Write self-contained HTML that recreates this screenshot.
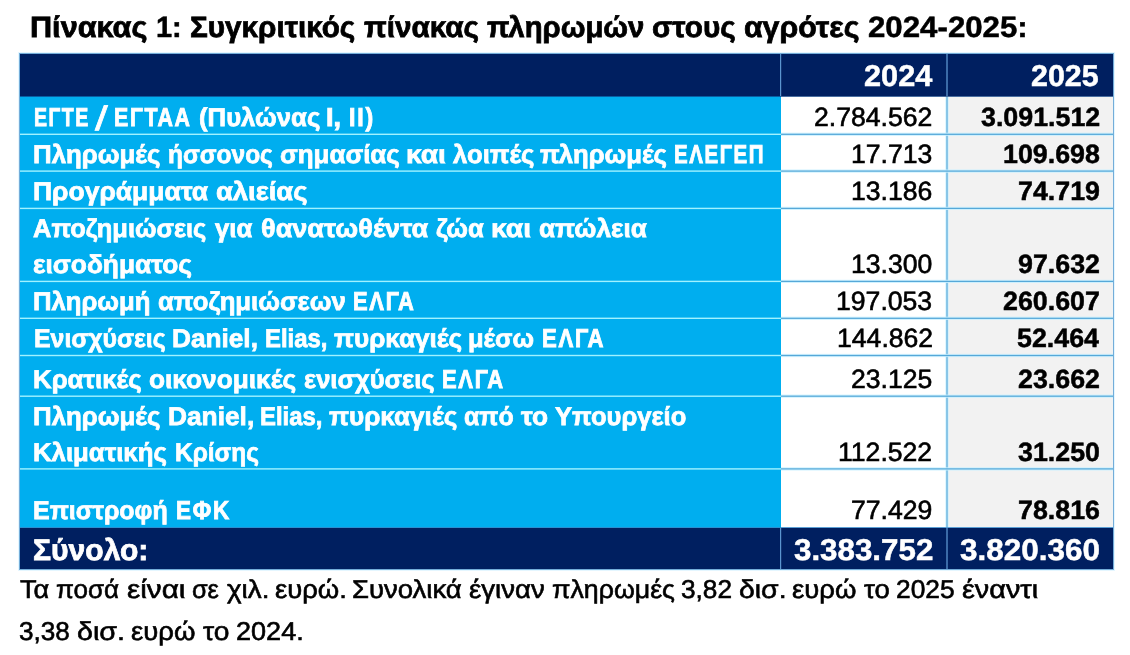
<!DOCTYPE html>
<html lang="el">
<head>
<meta charset="utf-8">
<title>Πίνακας 1: Συγκριτικός πίνακας πληρωμών στους αγρότες 2024-2025</title>
<style>
html,body{margin:0;padding:0;background:#fff;}
body{width:1130px;height:655px;position:relative;overflow:hidden;font-family:"Liberation Sans",sans-serif;text-rendering:geometricPrecision;color:#000;}
.b{position:absolute;z-index:0;}
.o{z-index:2;}
h1,p{margin:0;padding:0;font-weight:400;}
table{position:absolute;left:20px;top:54px;width:1093px;border-collapse:collapse;border-spacing:0;table-layout:fixed;z-index:1;}
th,td{position:relative;padding:0;margin:0;border:0;text-align:left;vertical-align:top;font-weight:400;overflow:visible;}
thead tr,tfoot tr{background:#001f60;}
tbody th{background:#00aeef;}
tbody td{background:#fff;}
tbody td.y25{background:#f2f2f2;}
.l{position:absolute;left:0;width:0;height:0;white-space:nowrap;line-height:1;margin:0;padding:0;}
.l span{position:absolute;top:0;white-space:nowrap;transform-origin:0 0;}
.bd{font-weight:700;-webkit-text-stroke:0.75px currentColor;}
.rg{-webkit-text-stroke:0.6px currentColor;}
.w{color:#fff;}
</style>
</head>
<body>
<div class="b" style="left:18px;top:52px;width:1097px;height:519px;background:#e4f6ff"></div>
<div class="b" style="left:19px;top:53px;width:1095px;height:517px;background:#74add9"></div>
<h1 class="l bd" style="top:13px;font-size:29.4px"><span style="left:29.94px;transform:scaleX(1.0422)">Πίνακας</span> <span style="-webkit-text-stroke-width:0.5px;left:156.42px;transform:scaleX(0.9864)">1:</span> <span style="left:189.99px;transform:scaleX(1.0093)">Συγκριτικός</span> <span style="left:364.15px;transform:scaleX(1.0093)">πίνακας</span> <span style="left:487.25px;transform:scaleX(0.9971)">πληρωμών</span> <span style="left:652.34px;transform:scaleX(1.0105)">στους</span> <span style="left:744.33px;transform:scaleX(1.0299)">αγρότες</span> <span style="-webkit-text-stroke-width:0.5px;left:868.40px;transform:scaleX(1.0626)">2024-2025:</span></h1>
<table>
<colgroup><col style="width:761px"><col style="width:166px"><col style="width:166px"></colgroup>
<thead>
<tr style="height:43px"><th></th><th><div class="l bd w" style="top:8px;font-size:30px"><span style="-webkit-text-stroke-width:0.5px;left:83.13px;transform:scaleX(1.0227)">2024</span></div></th><th><div class="l bd w" style="top:8px;font-size:30px"><span style="-webkit-text-stroke-width:0.5px;left:84.24px;transform:scaleX(1.0137)">2025</span></div></th></tr>
</thead>
<tbody>
<tr style="height:37px"><th><div class="l bd w" style="top:9px;font-size:25.8px"><span style="-webkit-text-stroke-width:0.9px;letter-spacing:2px;left:13.76px;transform:scaleX(0.7557)">ΕΓΤΕ</span> <span style="-webkit-text-stroke-width:0.6px;top:-4px;font-size:34px;font-weight:400;left:74.74px;transform:scaleX(1.3500)">/</span> <span style="-webkit-text-stroke-width:0.9px;letter-spacing:2px;left:94.47px;transform:scaleX(0.8276)">ΕΓΤΑΑ</span> <span style="left:178.90px;transform:scaleX(0.9967)">(Πυλώνας</span> <span style="-webkit-text-stroke-width:0.9px;left:306.49px;transform:scaleX(1.0468)">Ι,</span> <span style="-webkit-text-stroke-width:0.9px;letter-spacing:2px;left:328.98px;transform:scaleX(0.8970)">ΙΙ)</span></div></th><td><div class="l rg" style="top:7px;font-size:26.4px"><span style="left:33.29px;transform:scaleX(1.0078)">2.784.562</span></div></td><td class="y25"><div class="l bd" style="top:7px;font-size:26.4px"><span style="-webkit-text-stroke-width:0.5px;left:33.75px;transform:scaleX(1.0159)">3.091.512</span></div></td></tr>
<tr style="height:37px"><th><div class="l bd w" style="top:9px;font-size:25.8px"><span style="left:13.45px;transform:scaleX(1.0008)">Πληρωμές</span> <span style="left:148.19px;transform:scaleX(0.9505)">ήσσονος</span> <span style="left:259.65px;transform:scaleX(1.0055)">σημασίας</span> <span style="left:386.06px;transform:scaleX(1.0906)">και</span> <span style="left:433.25px;transform:scaleX(0.9951)">λοιπές</span> <span style="left:520.35px;transform:scaleX(0.9960)">πληρωμές</span> <span style="-webkit-text-stroke-width:0.9px;letter-spacing:2px;left:654.41px;transform:scaleX(0.7928)">ΕΛΕΓΕΠ</span></div></th><td><div class="l rg" style="top:7px;font-size:26.4px"><span style="left:70.33px;transform:scaleX(1.0078)">17.713</span></div></td><td class="y25"><div class="l bd" style="top:7px;font-size:26.4px"><span style="-webkit-text-stroke-width:0.5px;left:55.84px;transform:scaleX(1.0159)">109.698</span></div></td></tr>
<tr style="height:37px"><th><div class="l bd w" style="top:9px;font-size:25.8px"><span style="left:13.42px;transform:scaleX(1.0262)">Προγράμματα</span> <span style="left:195.90px;transform:scaleX(1.0631)">αλιείας</span></div></th><td><div class="l rg" style="top:7px;font-size:26.4px"><span style="left:70.33px;transform:scaleX(1.0078)">13.186</span></div></td><td class="y25"><div class="l bd" style="top:7px;font-size:26.4px"><span style="-webkit-text-stroke-width:0.5px;left:70.83px;transform:scaleX(1.0159)">74.719</span></div></td></tr>
<tr style="height:73px"><th><div class="l bd w" style="top:9px;font-size:25.8px"><span style="left:13.15px;transform:scaleX(0.9866)">Αποζημιώσεις</span> <span style="left:194.70px;transform:scaleX(0.9961)">για</span> <span style="left:241.01px;transform:scaleX(1.0501)">θανατωθέντα</span> <span style="left:416.30px;transform:scaleX(0.9937)">ζώα</span> <span style="left:471.26px;transform:scaleX(1.0964)">και</span> <span style="left:518.84px;transform:scaleX(1.0137)">απώλεια</span></div><div class="l bd w" style="top:45px;font-size:25.8px"><span style="left:13.19px;transform:scaleX(1.0204)">εισοδήματος</span></div></th><td><div class="l rg" style="top:43px;font-size:26.4px"><span style="left:70.08px;transform:scaleX(1.0078)">13.300</span></div></td><td class="y25"><div class="l bd" style="top:43px;font-size:26.4px"><span style="-webkit-text-stroke-width:0.5px;left:70.83px;transform:scaleX(1.0159)">97.632</span></div></td></tr>
<tr style="height:37px"><th><div class="l bd w" style="top:9px;font-size:25.8px"><span style="left:13.46px;transform:scaleX(0.9948)">Πληρωμή</span> <span style="left:137.75px;transform:scaleX(0.9960)">αποζημιώσεων</span> <span style="-webkit-text-stroke-width:0.9px;letter-spacing:2px;left:332.74px;transform:scaleX(0.8496)">ΕΛΓΑ</span></div></th><td><div class="l rg" style="top:7px;font-size:26.4px"><span style="left:55.46px;transform:scaleX(1.0078)">197.053</span></div></td><td class="y25"><div class="l bd" style="top:7px;font-size:26.4px"><span style="-webkit-text-stroke-width:0.5px;left:56.10px;transform:scaleX(1.0159)">260.607</span></div></td></tr>
<tr style="height:37px"><th><div class="l bd w" style="top:9px;font-size:25.8px"><span style="left:13.50px;transform:scaleX(0.9633)">Ενισχύσεις</span> <span style="left:152.23px;transform:scaleX(1.0159)">Daniel,</span> <span style="left:244.74px;transform:scaleX(0.9266)">Elias,</span> <span style="left:313.65px;transform:scaleX(1.0107)">πυρκαγιές</span> <span style="left:448.12px;transform:scaleX(0.9884)">μέσω</span> <span style="-webkit-text-stroke-width:0.9px;letter-spacing:2px;left:522.23px;transform:scaleX(0.8582)">ΕΛΓΑ</span></div></th><td><div class="l rg" style="top:7px;font-size:26.4px"><span style="left:55.72px;transform:scaleX(1.0078)">144.862</span></div></td><td class="y25"><div class="l bd" style="top:7px;font-size:26.4px"><span style="-webkit-text-stroke-width:0.5px;left:70.06px;transform:scaleX(1.0159)">52.464</span></div></td></tr>
<tr style="height:41px"><th><div class="l bd w" style="top:13px;font-size:25.8px"><span style="left:13.45px;transform:scaleX(1.0005)">Κρατικές</span> <span style="left:129.44px;transform:scaleX(1.0171)">οικονομικές</span> <span style="left:284.10px;transform:scaleX(0.9908)">ενισχύσεις</span> <span style="-webkit-text-stroke-width:0.9px;letter-spacing:2px;left:421.84px;transform:scaleX(0.8511)">ΕΛΓΑ</span></div></th><td><div class="l rg" style="top:11px;font-size:26.4px"><span style="left:70.08px;transform:scaleX(1.0078)">23.125</span></div></td><td class="y25"><div class="l bd" style="top:11px;font-size:26.4px"><span style="-webkit-text-stroke-width:0.5px;left:70.83px;transform:scaleX(1.0159)">23.662</span></div></td></tr>
<tr style="height:73px"><th><div class="l bd w" style="top:9px;font-size:25.8px"><span style="left:13.45px;transform:scaleX(1.0008)">Πληρωμές</span> <span style="left:147.53px;transform:scaleX(1.0195)">Daniel,</span> <span style="left:240.14px;transform:scaleX(0.9266)">Elias,</span> <span style="left:309.15px;transform:scaleX(1.0123)">πυρκαγιές</span> <span style="left:444.08px;transform:scaleX(0.9660)">από</span> <span style="left:500.75px;transform:scaleX(1.0171)">το</span> <span style="left:534.60px;transform:scaleX(0.9913)">Υπουργείο</span></div><div class="l bd w" style="top:45px;font-size:25.8px"><span style="left:13.45px;transform:scaleX(0.9981)">Κλιματικής</span> <span style="left:155.42px;transform:scaleX(0.9476)">Κρίσης</span></div></th><td><div class="l rg" style="top:43px;font-size:26.4px"><span style="left:57.48px;transform:scaleX(1.0078)">112.522</span></div></td><td class="y25"><div class="l bd" style="top:43px;font-size:26.4px"><span style="-webkit-text-stroke-width:0.5px;left:70.83px;transform:scaleX(1.0159)">31.250</span></div></td></tr>
<tr style="height:59px"><th><div class="l bd w" style="top:30px;font-size:25.8px"><span style="left:13.49px;transform:scaleX(0.9675)">Επιστροφή</span> <span style="-webkit-text-stroke-width:0.9px;letter-spacing:2px;left:155.51px;transform:scaleX(0.8714)">ΕΦΚ</span></div></th><td><div class="l rg" style="top:28px;font-size:26.4px"><span style="left:70.33px;transform:scaleX(1.0078)">77.429</span></div></td><td class="y25"><div class="l bd" style="top:28px;font-size:26.4px"><span style="-webkit-text-stroke-width:0.5px;left:70.83px;transform:scaleX(1.0159)">78.816</span></div></td></tr>
</tbody>
<tfoot>
<tr style="height:41px"><th><div class="l bd w" style="top:8px;font-size:29.7px"><span style="left:12.89px;transform:scaleX(1.0127)">Σύνολο:</span></div></th><td><div class="l bd w" style="top:8px;font-size:30px"><span style="-webkit-text-stroke-width:0.5px;left:12.88px;transform:scaleX(1.0439)">3.383.752</span></div></td><td><div class="l bd w" style="top:8px;font-size:30px"><span style="-webkit-text-stroke-width:0.5px;left:13.08px;transform:scaleX(1.0485)">3.820.360</span></div></td></tr>
</tfoot>
</table>
<p class="l rg" style="top:578px;font-size:25.8px"><span style="left:19.74px;transform:scaleX(1.0532)">Τα</span> <span style="left:56.15px;transform:scaleX(1.0065)">ποσά</span> <span style="left:127.02px;transform:scaleX(1.1500)">είναι</span> <span style="left:192.36px;transform:scaleX(0.9811)">σε</span> <span style="left:226.70px;transform:scaleX(1.0765)">χιλ.</span> <span style="left:275.27px;transform:scaleX(1.0631)">ευρώ.</span> <span style="left:352.33px;transform:scaleX(1.0660)">Συνολικά</span> <span style="left:469.27px;transform:scaleX(1.0681)">έγιναν</span> <span style="left:551.52px;transform:scaleX(1.0366)">πληρωμές</span> <span style="left:681.04px;transform:scaleX(1.0165)">3,82</span> <span style="left:739.37px;transform:scaleX(1.1006)">δισ.</span> <span style="left:792.37px;transform:scaleX(1.0650)">ευρώ</span> <span style="left:863.50px;transform:scaleX(1.0667)">το</span> <span style="left:895.78px;transform:scaleX(1.0216)">2025</span> <span style="left:961.54px;transform:scaleX(1.1170)">έναντι</span></p>
<p class="l rg" style="top:620px;font-size:25.8px"><span style="left:19.44px;transform:scaleX(1.0113)">3,38</span> <span style="left:77.07px;transform:scaleX(1.1106)">δισ.</span> <span style="left:131.27px;transform:scaleX(1.0667)">ευρώ</span> <span style="left:202.50px;transform:scaleX(1.0925)">το</span> <span style="left:235.65px;transform:scaleX(1.0488)">2024.</span></p>
<div class="b o" style="left:20px;top:96px;width:761px;height:1px;background:#0a5fa3"></div>
<div class="b o" style="left:781px;top:96px;width:332px;height:1px;background:#4a6ea0"></div>
<div class="b o" style="left:20px;top:527px;width:761px;height:1px;background:#2a8fd0"></div>
<div class="b o" style="left:781px;top:527px;width:332px;height:1px;background:#5b9fd5"></div>
<div class="b o" style="left:780px;top:54px;width:1px;height:42px;background:rgba(91,149,207,1.00)"></div>
<div class="b o" style="left:781px;top:54px;width:1px;height:42px;background:rgba(91,149,207,0.20)"></div>
<div class="b o" style="left:780px;top:528px;width:1px;height:41px;background:rgba(91,149,207,1.00)"></div>
<div class="b o" style="left:781px;top:528px;width:1px;height:41px;background:rgba(91,149,207,0.20)"></div>
<div class="b o" style="left:946px;top:54px;width:1px;height:42px;background:rgba(91,149,207,0.65)"></div>
<div class="b o" style="left:947px;top:54px;width:1px;height:42px;background:rgba(91,149,207,0.65)"></div>
<div class="b o" style="left:946px;top:528px;width:1px;height:41px;background:rgba(91,149,207,0.65)"></div>
<div class="b o" style="left:947px;top:528px;width:1px;height:41px;background:rgba(91,149,207,0.65)"></div>
<div class="b o" style="left:945px;top:97px;width:1px;height:430px;background:rgba(200,240,255,0.55)"></div>
<div class="b o" style="left:946px;top:97px;width:1px;height:430px;background:rgba(200,240,255,0.85)"></div>
<div class="b o" style="left:947px;top:97px;width:1px;height:430px;background:rgba(200,240,255,0.85)"></div>
<div class="b o" style="left:948px;top:97px;width:1px;height:430px;background:rgba(200,240,255,0.55)"></div>
<div class="b o" style="left:946px;top:97px;width:1px;height:430px;background:rgba(98,174,220,0.65)"></div>
<div class="b o" style="left:947px;top:97px;width:1px;height:430px;background:rgba(98,174,220,0.65)"></div>
<div class="b o" style="left:20px;top:133px;width:761px;height:1px;background:rgba(160,242,255,0.40)"></div>
<div class="b o" style="left:20px;top:134px;width:761px;height:1px;background:rgba(160,242,255,1.00)"></div>
<div class="b o" style="left:781px;top:132px;width:332px;height:1px;background:rgba(200,240,255,0.28)"></div>
<div class="b o" style="left:781px;top:133px;width:332px;height:1px;background:rgba(200,240,255,0.85)"></div>
<div class="b o" style="left:781px;top:134px;width:332px;height:1px;background:rgba(200,240,255,0.85)"></div>
<div class="b o" style="left:781px;top:135px;width:332px;height:1px;background:rgba(200,240,255,0.79)"></div>
<div class="b o" style="left:781px;top:133px;width:332px;height:1px;background:rgba(86,168,216,0.32)"></div>
<div class="b o" style="left:781px;top:134px;width:332px;height:1px;background:rgba(86,168,216,0.93)"></div>
<div class="b o" style="left:20px;top:170px;width:761px;height:1px;background:rgba(160,242,255,0.60)"></div>
<div class="b o" style="left:20px;top:171px;width:761px;height:1px;background:rgba(160,242,255,0.80)"></div>
<div class="b o" style="left:781px;top:169px;width:332px;height:1px;background:rgba(200,240,255,0.45)"></div>
<div class="b o" style="left:781px;top:170px;width:332px;height:1px;background:rgba(200,240,255,0.85)"></div>
<div class="b o" style="left:781px;top:171px;width:332px;height:1px;background:rgba(200,240,255,0.85)"></div>
<div class="b o" style="left:781px;top:172px;width:332px;height:1px;background:rgba(200,240,255,0.62)"></div>
<div class="b o" style="left:781px;top:170px;width:332px;height:1px;background:rgba(86,168,216,0.53)"></div>
<div class="b o" style="left:781px;top:171px;width:332px;height:1px;background:rgba(86,168,216,0.72)"></div>
<div class="b o" style="left:20px;top:207px;width:761px;height:1px;background:rgba(160,242,255,0.30)"></div>
<div class="b o" style="left:20px;top:208px;width:761px;height:1px;background:rgba(160,242,255,1.00)"></div>
<div class="b o" style="left:20px;top:209px;width:761px;height:1px;background:rgba(160,242,255,0.10)"></div>
<div class="b o" style="left:781px;top:206px;width:332px;height:1px;background:rgba(200,240,255,0.19)"></div>
<div class="b o" style="left:781px;top:207px;width:332px;height:1px;background:rgba(200,240,255,0.85)"></div>
<div class="b o" style="left:781px;top:208px;width:332px;height:1px;background:rgba(200,240,255,0.85)"></div>
<div class="b o" style="left:781px;top:209px;width:332px;height:1px;background:rgba(200,240,255,0.85)"></div>
<div class="b o" style="left:781px;top:207px;width:332px;height:1px;background:rgba(86,168,216,0.22)"></div>
<div class="b o" style="left:781px;top:208px;width:332px;height:1px;background:rgba(86,168,216,1.00)"></div>
<div class="b o" style="left:20px;top:280px;width:761px;height:1px;background:rgba(160,242,255,0.30)"></div>
<div class="b o" style="left:20px;top:281px;width:761px;height:1px;background:rgba(160,242,255,1.00)"></div>
<div class="b o" style="left:20px;top:282px;width:761px;height:1px;background:rgba(160,242,255,0.10)"></div>
<div class="b o" style="left:781px;top:279px;width:332px;height:1px;background:rgba(200,240,255,0.19)"></div>
<div class="b o" style="left:781px;top:280px;width:332px;height:1px;background:rgba(200,240,255,0.85)"></div>
<div class="b o" style="left:781px;top:281px;width:332px;height:1px;background:rgba(200,240,255,0.85)"></div>
<div class="b o" style="left:781px;top:282px;width:332px;height:1px;background:rgba(200,240,255,0.85)"></div>
<div class="b o" style="left:781px;top:280px;width:332px;height:1px;background:rgba(86,168,216,0.23)"></div>
<div class="b o" style="left:781px;top:281px;width:332px;height:1px;background:rgba(86,168,216,1.00)"></div>
<div class="b o" style="left:20px;top:317px;width:761px;height:1px;background:rgba(160,242,255,0.40)"></div>
<div class="b o" style="left:20px;top:318px;width:761px;height:1px;background:rgba(160,242,255,1.00)"></div>
<div class="b o" style="left:781px;top:316px;width:332px;height:1px;background:rgba(200,240,255,0.28)"></div>
<div class="b o" style="left:781px;top:317px;width:332px;height:1px;background:rgba(200,240,255,0.85)"></div>
<div class="b o" style="left:781px;top:318px;width:332px;height:1px;background:rgba(200,240,255,0.85)"></div>
<div class="b o" style="left:781px;top:319px;width:332px;height:1px;background:rgba(200,240,255,0.79)"></div>
<div class="b o" style="left:781px;top:317px;width:332px;height:1px;background:rgba(86,168,216,0.32)"></div>
<div class="b o" style="left:781px;top:318px;width:332px;height:1px;background:rgba(86,168,216,0.93)"></div>
<div class="b o" style="left:20px;top:354px;width:761px;height:1px;background:rgba(160,242,255,0.20)"></div>
<div class="b o" style="left:20px;top:355px;width:761px;height:1px;background:rgba(160,242,255,1.00)"></div>
<div class="b o" style="left:20px;top:356px;width:761px;height:1px;background:rgba(160,242,255,0.20)"></div>
<div class="b o" style="left:781px;top:353px;width:332px;height:1px;background:rgba(200,240,255,0.11)"></div>
<div class="b o" style="left:781px;top:354px;width:332px;height:1px;background:rgba(200,240,255,0.85)"></div>
<div class="b o" style="left:781px;top:355px;width:332px;height:1px;background:rgba(200,240,255,0.85)"></div>
<div class="b o" style="left:781px;top:356px;width:332px;height:1px;background:rgba(200,240,255,0.85)"></div>
<div class="b o" style="left:781px;top:357px;width:332px;height:1px;background:rgba(200,240,255,0.11)"></div>
<div class="b o" style="left:781px;top:354px;width:332px;height:1px;background:rgba(86,168,216,0.12)"></div>
<div class="b o" style="left:781px;top:355px;width:332px;height:1px;background:rgba(86,168,216,1.00)"></div>
<div class="b o" style="left:781px;top:356px;width:332px;height:1px;background:rgba(86,168,216,0.12)"></div>
<div class="b o" style="left:20px;top:395px;width:761px;height:1px;background:rgba(160,242,255,0.50)"></div>
<div class="b o" style="left:20px;top:396px;width:761px;height:1px;background:rgba(160,242,255,0.90)"></div>
<div class="b o" style="left:781px;top:394px;width:332px;height:1px;background:rgba(200,240,255,0.36)"></div>
<div class="b o" style="left:781px;top:395px;width:332px;height:1px;background:rgba(200,240,255,0.85)"></div>
<div class="b o" style="left:781px;top:396px;width:332px;height:1px;background:rgba(200,240,255,0.85)"></div>
<div class="b o" style="left:781px;top:397px;width:332px;height:1px;background:rgba(200,240,255,0.70)"></div>
<div class="b o" style="left:781px;top:395px;width:332px;height:1px;background:rgba(86,168,216,0.43)"></div>
<div class="b o" style="left:781px;top:396px;width:332px;height:1px;background:rgba(86,168,216,0.82)"></div>
<div class="b o" style="left:20px;top:468px;width:761px;height:1px;background:rgba(160,242,255,0.80)"></div>
<div class="b o" style="left:20px;top:469px;width:761px;height:1px;background:rgba(160,242,255,0.60)"></div>
<div class="b o" style="left:781px;top:467px;width:332px;height:1px;background:rgba(200,240,255,0.62)"></div>
<div class="b o" style="left:781px;top:468px;width:332px;height:1px;background:rgba(200,240,255,0.85)"></div>
<div class="b o" style="left:781px;top:469px;width:332px;height:1px;background:rgba(200,240,255,0.85)"></div>
<div class="b o" style="left:781px;top:470px;width:332px;height:1px;background:rgba(200,240,255,0.45)"></div>
<div class="b o" style="left:781px;top:468px;width:332px;height:1px;background:rgba(86,168,216,0.73)"></div>
<div class="b o" style="left:781px;top:469px;width:332px;height:1px;background:rgba(86,168,216,0.52)"></div>
</body>
</html>
